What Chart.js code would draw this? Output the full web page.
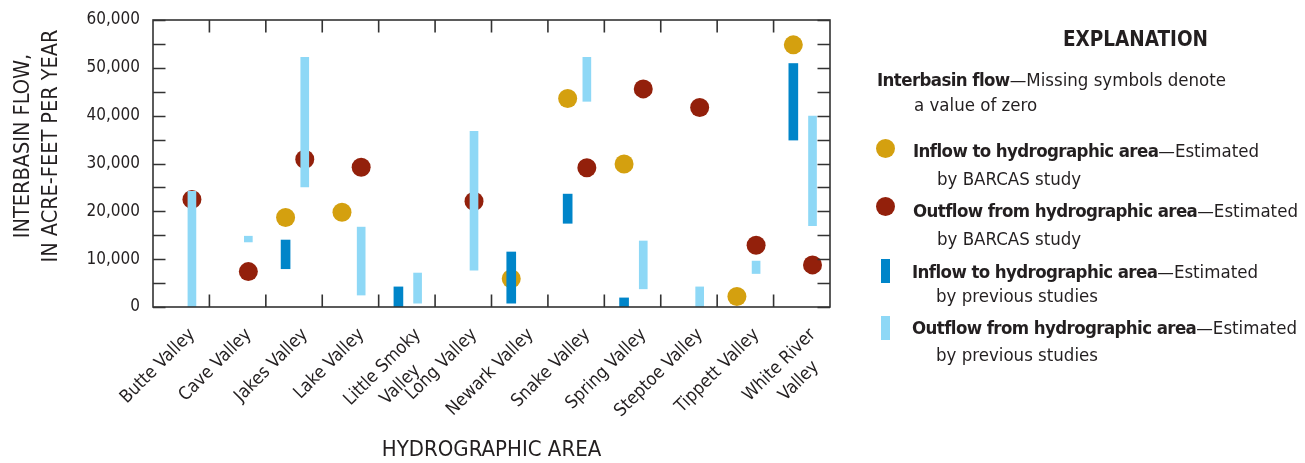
<!DOCTYPE html>
<html lang="en">
<head>
    <meta charset="UTF-8">
    <title>Interbasin flow by hydrographic area</title>
    <script src="https://cdn.jsdelivr.net/npm/chart.js"></script>
    <style>
        body {
            margin: 0;
            background: #fff;
            font-family: 'Liberation Sans Narrow', 'DejaVu Sans Condensed', 'Roboto Condensed', Roboto, sans-serif;
            color: #231f20;
        }
        .wrap {
            position: relative;
            width: 1305px;
            height: 463px;
        }
        canvas { position: absolute; left: 0; top: 0; }
        .lg {
            position: absolute;
            font-size: 18.5px;
            line-height: 20px;
            white-space: nowrap;
        }
        .lg b { font-weight: bold; letter-spacing: -0.6px; }
        .title { font-size: 20.5px; line-height: 22px; font-weight: bold; }
        .dot {
            position: absolute;
            width: 19px;
            height: 19px;
            border-radius: 50%;
        }
        .swatch {
            position: absolute;
            width: 9px;
            height: 24px;
        }
    </style>
</head>
<body>
<div class="wrap">
    <canvas id="flowChart" width="1305" height="463"></canvas>

    <div class="lg title" style="left:1063px; top:28px;">EXPLANATION</div>
    <div class="lg" style="left:877px; top:70px;"><b>Interbasin flow</b>—Missing symbols denote</div>
    <div class="lg" style="left:914px; top:95px;">a value of zero</div>

    <div class="dot" style="left:876px; top:139px; background:#d4a00f;"></div>
    <div class="lg" style="left:913px; top:141px;"><b>Inflow to hydrographic area</b>—Estimated</div>
    <div class="lg" style="left:937px; top:169px;">by BARCAS study</div>

    <div class="dot" style="left:876px; top:197px; background:#93200b;"></div>
    <div class="lg" style="left:913px; top:201px;"><b>Outflow from hydrographic area</b>—Estimated</div>
    <div class="lg" style="left:937px; top:229px;">by BARCAS study</div>

    <div class="swatch" style="left:881px; top:259px; background:#0085c9;"></div>
    <div class="lg" style="left:912px; top:262px;"><b>Inflow to hydrographic area</b>—Estimated</div>
    <div class="lg" style="left:936px; top:286px;">by previous studies</div>

    <div class="swatch" style="left:881px; top:316px; background:#8ed8f6;"></div>
    <div class="lg" style="left:912px; top:318px;"><b>Outflow from hydrographic area</b>—Estimated</div>
    <div class="lg" style="left:936px; top:345px;">by previous studies</div>
</div>

<script>
    // Hydrographic areas (x axis)
    const categories = [
        'Butte Valley', 'Cave Valley', 'Jakes Valley', 'Lake Valley',
        ['Little Smoky', 'Valley'], 'Long Valley', 'Newark Valley', 'Snake Valley',
        'Spring Valley', 'Steptoe Valley', 'Tippett Valley', ['White River', 'Valley']
    ];

    // Interbasin flow, acre-feet per year (null = zero / no symbol)
    const inflowBarcas  = [null, null, 18700, 19800, null, null, 5900, 43600, 29900, null, 2200, 54800];
    const outflowBarcas = [22500, 7400, 30900, 29200, null, 22100, null, 29100, 45600, 41700, 12900, 8800];

    // Ranges estimated by previous studies
    const inflowPrevLow   = [null, null, 8000, null, 0, null, 800, 17500, 0, null, null, 34900];
    const inflowPrevHigh  = [null, null, 14000, null, 4200, null, 11500, 23600, 1900, null, null, 50900];
    const outflowPrevLow  = [0, 13600, 25100, 2500, 800, 7700, null, 43000, 3800, 0, 7000, 17000];
    const outflowPrevHigh = [24200, 14800, 52200, 16700, 7100, 36700, null, 52200, 13800, 4200, 9600, 39900];

    const yTicks = [0, 10000, 20000, 30000, 40000, 50000, 60000];

    const FONT = "'Liberation Sans Narrow', 'DejaVu Sans Condensed', 'Roboto Condensed', Roboto, sans-serif";
    const INK = '#231f20';
    const LABEL_SIZE = 18;

    // symbols for inflow sit left of the category centre, outflow right of it
    const IN_SHIFT = -0.15;
    const OUT_SHIFT = 0.19;

    function points(values, shift) {
        const out = [];
        values.forEach((v, i) => {
            if (v !== null) out.push({ x: i + 0.5 + shift, y: v });
        });
        return out;
    }

    function ranges(lows, highs, shift) {
        const out = [];
        lows.forEach((lo, i) => {
            if (lo !== null && highs[i] !== null) out.push({ x: i + 0.5 + shift, y: [lo, highs[i]] });
        });
        return out;
    }

    // Chart.js right-aligns rotated lines; pad the shorter line so the two lines sit centred
    const measureCtx = document.createElement('canvas').getContext('2d');
    function centreLines(label) {
        if (!Array.isArray(label)) return label;
        measureCtx.font = LABEL_SIZE + 'px ' + FONT;
        const widths = label.map(s => measureCtx.measureText(s).width);
        const maxW = Math.max(...widths);
        const spaceW = measureCtx.measureText(' ').width;
        return label.map((s, i) => s + ' '.repeat(Math.round((maxW - widths[i]) / 2 / spaceW)));
    }

    // frame, inward tick marks and the two-line y title
    const frameTicks = {
        id: 'frameTicks',
        afterDraw(chart) {
            const { ctx, chartArea: a, scales } = chart;
            ctx.save();
            ctx.strokeStyle = '#333';
            ctx.lineWidth = 1.6;
            ctx.strokeRect(a.left, a.top, a.right - a.left, a.bottom - a.top);
            ctx.beginPath();
            for (let v = 0; v <= 60000; v += 5000) {
                const py = Math.round(scales.y.getPixelForValue(v)) + 0.5;
                ctx.moveTo(a.left, py); ctx.lineTo(a.left + 12.5, py);
                ctx.moveTo(a.right, py); ctx.lineTo(a.right - 12.5, py);
            }
            for (let i = 1; i < categories.length; i++) {
                const px = scales.xl.getPixelForValue(i);
                ctx.moveTo(px, a.top); ctx.lineTo(px, a.top + 12.5);
                ctx.moveTo(px, a.bottom); ctx.lineTo(px, a.bottom - 12.5);
            }
            ctx.stroke();

            ctx.fillStyle = INK;
            ctx.font = '21.5px ' + FONT;
            ctx.textAlign = 'center';
            ctx.textBaseline = 'alphabetic';
            ctx.translate(0, 146);
            ctx.rotate(-Math.PI / 2);
            ctx.fillText('INTERBASIN FLOW,', 0, 29);
            ctx.fillText('IN ACRE-FEET PER YEAR', 0, 57);
            ctx.restore();
        }
    };

    new Chart(document.getElementById('flowChart'), {
        type: 'bar',
        data: {
            datasets: [
                {
                    label: 'Inflow, previous studies',
                    type: 'bar',
                    xAxisID: 'xl',
                    data: ranges(inflowPrevLow, inflowPrevHigh, IN_SHIFT),
                    backgroundColor: '#0085c9',
                    barThickness: 9,
                    grouped: false,
                    borderWidth: 0,
                    order: 0
                },
                {
                    label: 'Outflow, previous studies',
                    type: 'bar',
                    xAxisID: 'xl',
                    data: ranges(outflowPrevLow, outflowPrevHigh, OUT_SHIFT),
                    backgroundColor: '#8ed8f6',
                    barThickness: 8,
                    grouped: false,
                    borderWidth: 0,
                    order: 0
                },
                {
                    label: 'Inflow, BARCAS',
                    type: 'scatter',
                    xAxisID: 'xl',
                    data: points(inflowBarcas, IN_SHIFT),
                    backgroundColor: '#d4a00f',
                    pointRadius: 9.5,
                    pointBorderWidth: 0,
                    order: 1
                },
                {
                    label: 'Outflow, BARCAS',
                    type: 'scatter',
                    xAxisID: 'xl',
                    data: points(outflowBarcas, OUT_SHIFT),
                    backgroundColor: '#93200b',
                    pointRadius: 9.5,
                    pointBorderWidth: 0,
                    order: 1
                }
            ]
        },
        options: {
            responsive: false,
            animation: false,
            devicePixelRatio: 1,
            layout: { padding: { top: 20, right: 475, bottom: 0, left: 0 } },
            plugins: {
                legend: { display: false },
                tooltip: { enabled: false }
            },
            scales: {
                x: {
                    type: 'category',
                    labels: categories,
                    offset: true,
                    grid: { display: false, offset: true },
                    border: { display: false },
                    ticks: {
                        color: INK,
                        font: { family: FONT, size: LABEL_SIZE, lineHeight: 1.4 },
                        minRotation: 45,
                        maxRotation: 45,
                        labelOffset: 11,
                        padding: 8,
                        autoSkip: false,
                        callback(value) { return centreLines(categories[value]); }
                    },
                    title: {
                        display: true,
                        text: 'HYDROGRAPHIC AREA',
                        color: INK,
                        font: { family: FONT, size: 22 },
                        padding: { top: 0, bottom: 0 }
                    },
                    afterFit(scale) {
                        scale.height = 156;
                        scale.paddingTop = 0;
                        scale.paddingBottom = 0;
                    }
                },
                xl: {
                    type: 'linear',
                    display: false,
                    min: 0,
                    max: categories.length,
                    offset: false
                },
                y: {
                    type: 'linear',
                    min: 0,
                    max: 60000,
                    grid: { display: false, drawTicks: false },
                    border: { display: false },
                    afterBuildTicks(scale) { scale.ticks = yTicks.map(v => ({ value: v })); },
                    ticks: {
                        color: INK,
                        font: { family: FONT, size: 17 },
                        padding: 13,
                        callback: v => v.toLocaleString('en-US')
                    },
                    afterFit(scale) {
                        scale.width = 153;
                        scale.paddingTop = 0;
                        scale.paddingBottom = 0;
                    }
                }
            }
        },
        plugins: [frameTicks]
    });
</script>
</body>
</html>
